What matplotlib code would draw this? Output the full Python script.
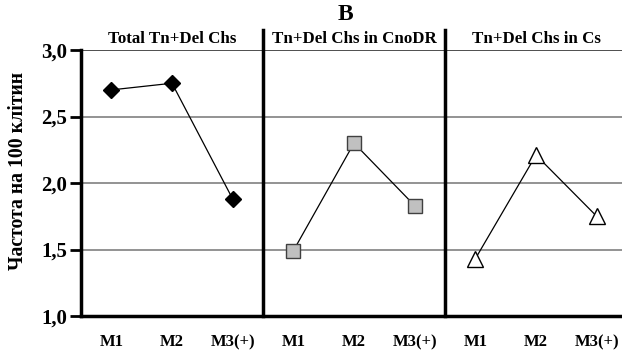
import numpy as np
import matplotlib.pyplot as plt

plt.rcParams['font.family'] = ['Liberation Serif', 'DejaVu Serif']

panel_titles = ['Total Tn+Del Chs', 'Tn+Del Chs in CnoDR', 'Tn+Del Chs in Cs']
groups = ['M1', 'M2', 'M3(+)']
total = [2.70, 2.75, 1.88]
cnodr = [1.49, 2.30, 1.83]
cs = [1.43, 2.21, 1.75]
yticks = [1.0, 1.5, 2.0, 2.5, 3.0]

fig = plt.figure(figsize=(6.22, 3.52), dpi=100)
ax = fig.add_axes([81/622, 36/352, 546/622, 266/352])

series = [total, cnodr, cs]
markers = [dict(marker='D', ms=8, mfc='black', mec='black'),
           dict(marker='s', ms=10, mfc='#c0c0c0', mec='#404040'),
           dict(marker='^', ms=11, mfc='white', mec='black')]
for k, (vals, mk) in enumerate(zip(series, markers)):
    x = np.arange(3) + 3 * k
    ax.plot(x, vals, color='black', lw=0.9, mew=1.0, zorder=3, **mk)

for y in yticks[1:-1]:
    ax.axhline(y, color='#808080', lw=1.2, zorder=1)
ax.axhline(3.0, color='#303030', lw=1.2, zorder=1)

# panel separators
for xs in [2.5, 5.5]:
    ax.plot([xs, xs], [1.0, 3.15], color='black', lw=2.5, clip_on=False, zorder=4)

ax.set_xlim(-0.5, 8.5)
ax.set_ylim(1.0, 3.0)
ax.set_xticks(np.arange(9))
ax.set_xticklabels(groups * 3, fontsize=12, fontweight='bold')
ax.tick_params(axis='x', length=0, pad=13)
ax.set_yticks(yticks)
ax.set_yticklabels([('%.1f' % v).replace('.', ',') for v in yticks],
                   fontsize=15, fontweight='bold')
ax.tick_params(axis='y', length=8, width=2, direction='out', pad=2)

for s in ['top', 'right']:
    ax.spines[s].set_visible(False)
ax.spines['left'].set_linewidth(2.5)
ax.spines['bottom'].set_linewidth(2.5)

for k, t in enumerate(panel_titles):
    ax.text(1 + 3 * k, 3.02, t, ha='center', va='bottom',
            fontsize=12.2, fontweight='bold')

fig.text(345/622, 1 - 14/352, 'B', ha='center', va='center',
         fontsize=17, fontweight='bold')
fig.text(18/622, 1 - 171/352, 'Частота на 100 клітин', rotation=90,
         ha='center', va='center', fontsize=14.2, fontweight='bold')

fig.savefig('out.png', dpi=100)
